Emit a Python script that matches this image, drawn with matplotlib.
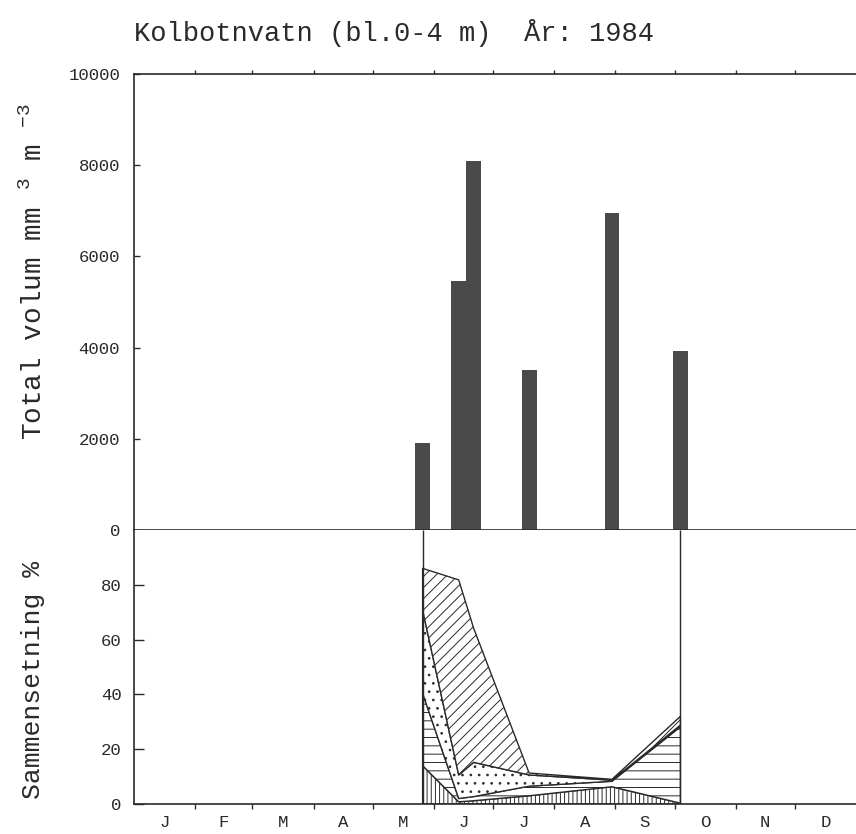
import matplotlib
matplotlib.use("Agg")
import matplotlib.pyplot as plt
import numpy as np

# ---------------- data ----------------
month_labels = ['J', 'F', 'M', 'A', 'M', 'J', 'J', 'A', 'S', 'O', 'N', 'D']
month_start = [0, 31, 60, 91, 121, 152, 182, 213, 244, 274, 305, 335, 366]  # day of year 1984

sample_day = [146.3, 164.6, 172.2, 200.3, 242.3, 277.0]
total_volume = [1900, 5450, 8100, 3500, 6950, 3920]   # mm3 m-3

# composition (%) per group, bottom to top
pct_vertical = [14.0, 0.8, 1.2, 3.0, 6.3, 0.3]
pct_horizontal = [26.4, 1.2, 1.5, 3.5, 2.0, 27.9]
pct_dotted = [30.4, 8.6, 12.5, 4.1, 0.4, 0.6]
pct_diagonal = [15.2, 71.2, 48.9, 0.7, 0.3, 3.2]

title = "Kolbotnvatn (bl.0-4 m)  År: 1984"

# ---------------- style ----------------
plt.rcParams['font.family'] = ['Liberation Mono', 'DejaVu Sans Mono']
plt.rcParams['mathtext.fontset'] = 'custom'
plt.rcParams['mathtext.rm'] = 'Liberation Mono'
plt.rcParams['mathtext.default'] = 'regular'
plt.rcParams['hatch.linewidth'] = 0.7
ink = '#2a2a2a'

W, H = 856, 834
fig = plt.figure(figsize=(W / 100, H / 100), dpi=100)

left, right = 134, 856
ax1 = fig.add_axes([left / W, (H - 530) / H, (right - left) / W, (530 - 74) / H])
ax2 = fig.add_axes([left / W, (H - 804) / H, (right - left) / W, (804 - 530) / H])

# ---------------- top panel: total volume ----------------
ax1.bar(sample_day, total_volume, width=7.5, color='#4a4a4a', edgecolor='none', zorder=2)
ax1.set_xlim(month_start[0], month_start[-1])
ax1.set_ylim(0, 10000)
ax1.set_yticks(np.arange(0, 10001, 2000))
ax1.set_yticklabels([str(v) for v in range(0, 10001, 2000)])
ax1.tick_params(axis='y', direction='in', length=4, width=1, pad=10,
                labelsize=12.5, colors=ink)
ax1.set_xticks(month_start[1:-1])
ax1.tick_params(axis='x', which='both', top=True, bottom=False, labeltop=False,
                labelbottom=False, direction='out', length=3, width=1, colors=ink)
ax1.spines['right'].set_visible(False)
for s in ['top', 'left', 'bottom']:
    ax1.spines[s].set_linewidth(1.2)
    ax1.spines[s].set_color(ink)

# ---------------- bottom panel: composition ----------------
ax2.stackplot(sample_day, pct_vertical, pct_horizontal, pct_dotted, pct_diagonal,
              colors=['white'] * 4, hatch=['||||', '--', '..', '///'],
              edgecolor=ink, linewidth=1.0, zorder=2)
ax2.vlines([sample_day[0], sample_day[-1]], 0, 100, color=ink, linewidth=1.0, zorder=3)
ax2.set_xlim(month_start[0], month_start[-1])
ax2.set_ylim(0, 100)
ax2.set_yticks([0, 20, 40, 60, 80])
ax2.tick_params(axis='y', direction='in', length=7.5, width=1, pad=9,
                labelsize=12.5, colors=ink)
ax2.set_xticks(month_start[1:-1])
ax2.set_xticklabels([])
ax2.tick_params(axis='x', which='major', direction='out', length=3.5, width=1, colors=ink)
mid = [(a + b) / 2 for a, b in zip(month_start[:-1], month_start[1:])]
ax2.set_xticks(mid, minor=True)
ax2.set_xticklabels(month_labels, minor=True)
ax2.tick_params(axis='x', which='minor', length=0, pad=8, labelsize=12.5, colors=ink)
ax2.spines['right'].set_visible(False)
ax2.spines['top'].set_visible(False)
for s in ['left', 'bottom']:
    ax2.spines[s].set_linewidth(1.2)
    ax2.spines[s].set_color(ink)

# ---------------- texts ----------------
fig.text(left / W, 1 - 33 / H, title, ha='left', va='center', fontsize=19.5, color=ink)
fig.text(34 / W, 1 - 272 / H, 'Total volum mm $^{3}$ m $^{-3}$', rotation=90,
         ha='center', va='center', fontsize=20, color=ink)
fig.text(33 / W, 1 - 680 / H, 'Sammensetning %', rotation=90,
         ha='center', va='center', fontsize=19, color=ink)

fig.savefig('out.png', dpi=100)
